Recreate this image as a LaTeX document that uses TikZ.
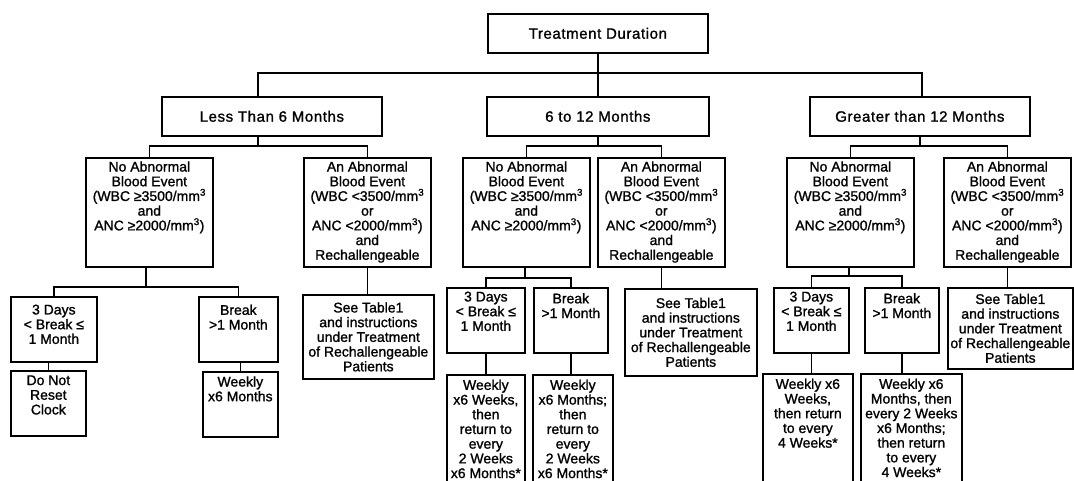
\documentclass[tikz,border=0pt]{standalone}
\usepackage{fontspec}
\setmainfont{Liberation Sans}[FakeBold=1.2]
\newfontfamily\bodyfont[FakeBold=1.2]{Liberation Sans}
\newfontfamily\headfont[LetterSpace=4,FakeBold=1.2]{Liberation Sans}
\tikzset{
  box/.style={draw, rectangle, line width=1.7pt, inner sep=0pt},
  txt/.style={align=center, inner sep=0pt, font=\bodyfont\fontsize{14}{14.7}\selectfont},
  head/.style={align=center, inner sep=0pt, font=\headfont\fontsize{15}{18}\selectfont},
  conn/.style={line width=1.7pt},
}
% top-aligned box: name, x1, y1, x2, y2, text offset, text
\newcommand{\tbx}[7]{%
  \node[box, anchor=north west, minimum width={#4-#2}, minimum height={#5-#3}] (#1) at (#2,#3) {};
  \node[txt, anchor=north] (#1t) at ([yshift=-#6pt]#1.north) {#7};}
% centred box: name, x1, y1, x2, y2, style, text
\newcommand{\cbx}[7]{%
  \node[box, anchor=north west, minimum width={#4-#2}, minimum height={#5-#3}] (#1) at (#2,#3) {};
  \node[#6, anchor=center] (#1t) at (#1.center) {#7};}
\begin{document}
\begin{tikzpicture}[x=1pt, y=-1pt]
\useasboundingbox (0,0) rectangle (1074,481);
\clip (0,0) rectangle (1074,481);
% level 0 and 1
\cbx{TD}{487}{13}{707}{52}{head}{Treatment Duration}
\cbx{LT6}{161}{96}{381}{135}{head}{Less Than 6 Months}
\cbx{M612}{486}{96}{708}{135}{head}{6 to 12 Months}
\cbx{GT12}{809}{96}{1029}{135}{head}{Greater than 12 Months}
% level 2
\tbx{LNA}{85}{157}{212}{266}{4.2}{No Abnormal\\Blood Event\\(WBC ≥3500/mm\textsuperscript{3}\\and\\ANC ≥2000/mm\textsuperscript{3})}
\tbx{LAB}{303}{157}{430}{266}{4.2}{An Abnormal\\Blood Event\\(WBC <3500/mm\textsuperscript{3}\\or\\ANC <2000/mm\textsuperscript{3})\\and\\Rechallengeable}
\tbx{MNA}{462}{157}{589}{266}{4.2}{No Abnormal\\Blood Event\\(WBC ≥3500/mm\textsuperscript{3}\\and\\ANC ≥2000/mm\textsuperscript{3})}
\tbx{MAB}{597}{157}{724}{266}{4.2}{An Abnormal\\Blood Event\\(WBC <3500/mm\textsuperscript{3}\\or\\ANC <2000/mm\textsuperscript{3})\\and\\Rechallengeable}
\tbx{GNA}{786}{157}{913}{266}{4.2}{No Abnormal\\Blood Event\\(WBC ≥3500/mm\textsuperscript{3}\\and\\ANC ≥2000/mm\textsuperscript{3})}
\tbx{GAB}{943}{157}{1070}{266}{4.2}{An Abnormal\\Blood Event\\(WBC <3500/mm\textsuperscript{3}\\or\\ANC <2000/mm\textsuperscript{3})\\and\\Rechallengeable}
% level 3: less than 6 months
\tbx{L3D}{10}{296}{96}{361}{8.5}{3 Days\\< Break ≤\\1 Month}
\tbx{LBR}{198}{296}{277}{361}{8.5}{Break\\>1 Month}
\tbx{LDN}{10}{370}{85}{435}{5.2}{Do Not\\Reset\\Clock}
\tbx{LWK}{202}{371}{277}{436}{5.2}{Weekly\\x6 Months}
\cbx{LST}{302}{294}{433}{378}{txt}{See Table1\\and instructions\\under Treatment\\of Rechallengeable\\Patients}
% level 3: 6 to 12 months
\tbx{M3D}{446}{287}{524}{352}{4.5}{3 Days\\< Break ≤\\1 Month}
\tbx{MBR}{533}{287}{607}{352}{6}{Break\\>1 Month}
\tbx{MW1}{446}{374}{524}{495}{5.5}{Weekly\\x6 Weeks,\\then\\return to\\every\\2 Weeks\\x6 Months*}
\tbx{MW2}{532}{374}{612}{495}{5.5}{Weekly\\x6 Months;\\then\\return to\\every\\2 Weeks\\x6 Months*}
\cbx{MST}{624}{288}{756}{375}{txt}{See Table1\\and instructions\\under Treatment\\of Rechallengeable\\Patients}
% level 3: greater than 12 months
\tbx{G3D}{773}{287}{848}{352}{4.5}{3 Days\\< Break ≤\\1 Month}
\tbx{GBR}{864}{287}{938}{352}{6}{Break\\>1 Month}
\tbx{GW1}{762}{373}{852}{495}{5.5}{Weekly x6\\Weeks,\\then return\\to every\\4 Weeks*}
\tbx{GW2}{860}{373}{961}{495}{5.5}{Weekly x6\\Months, then\\every 2 Weeks\\x6 Months;\\then return\\to every\\4 Weeks*}
\cbx{GST}{947}{287}{1072}{368}{txt}{See Table1\\and instructions\\under Treatment\\of Rechallengeable\\Patients}
% connectors
\draw[conn] (TD.south) -- (M612.north);
\draw[conn] ([xshift=-14pt]LT6.north) -- ++(0,-23) -| ([xshift=2pt]GT12.north);
\draw[conn] ([xshift=-14pt]LT6.south) -- ++(0,9) coordinate (b1);
\draw[conn] (LNA.north) |- (b1) -| (LAB.north);
\draw[conn] (M612.south) -- ++(0,9) coordinate (b2);
\draw[conn] (MNA.north) |- (b2) -| (MAB.north);
\draw[conn] (GT12.south) -- ++(0,9) coordinate (b3);
\draw[conn] (GNA.north) |- (b3) -| (GAB.north);
\draw[conn] ([xshift=-3.5pt]LNA.south) -- ++(0,19) coordinate (b4);
\draw[conn] (L3D.north) |- (b4) -| (LBR.north);
\draw[conn] (LDN.north) -- (LDN.north |- L3D.south);
\draw[conn] (LWK.north) -- (LWK.north |- LBR.south);
\draw[conn] (LAB.south) -- (LAB.south |- LST.north);
\draw[conn] ([xshift=-1.5pt]MNA.south) -- ++(0,10) coordinate (b5);
\draw[conn] (M3D.north) |- (b5) -| (MBR.north);
\draw[conn] (M3D.south) -- (M3D.south |- MW1.north);
\draw[conn] (MBR.south) -- (MBR.south |- MW2.north);
\draw[conn] (MAB.south) -- (MAB.south |- MST.north);
\draw[conn] ([xshift=-1.5pt]GNA.south) -- ++(0,8) coordinate (b6);
\draw[conn] (G3D.north) |- (b6) -| (GBR.north);
\draw[conn] (G3D.south) -- (G3D.south |- GW1.north);
\draw[conn] (GBR.south) -- (GBR.south |- GW2.north);
\draw[conn] (GAB.south) -- (GAB.south |- GST.north);
\end{tikzpicture}
\end{document}
